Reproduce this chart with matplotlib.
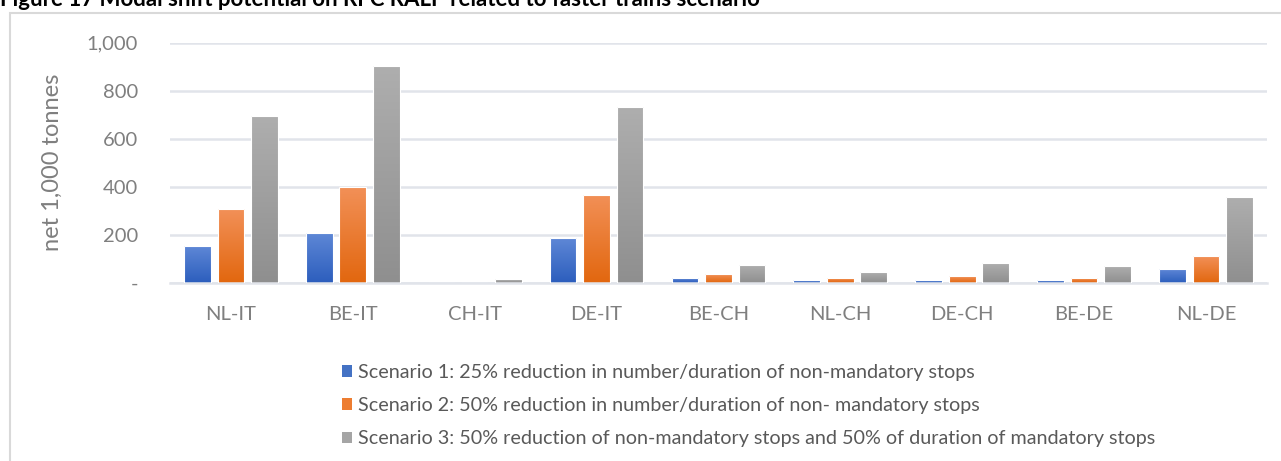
import matplotlib
matplotlib.use('Agg')
import matplotlib.pyplot as plt
from matplotlib.colors import LinearSegmentedColormap
from matplotlib.patches import Rectangle, Patch
from matplotlib.ticker import FuncFormatter
import numpy as np

# Data
corridors = ['NL-IT', 'BE-IT', 'CH-IT', 'DE-IT', 'BE-CH', 'NL-CH', 'DE-CH', 'BE-DE', 'NL-DE']
scenario1 = [153, 208, 0, 185, 21, 11, 11, 11, 58]
scenario2 = [308, 400, 0, 367, 37, 21, 27, 21, 111]
scenario3 = [695, 904, 15, 731, 74, 43, 81, 70, 356]
labels = [
    'Scenario 1: 25% reduction in number/duration of non-mandatory stops',
    'Scenario 2: 50% reduction in number/duration of non- mandatory stops',
    'Scenario 3: 50% reduction of non-mandatory stops and 50% of duration of mandatory stops',
]
y_ticks = [0, 200, 400, 600, 800, 1000]

# (top colour, bottom colour, legend colour)
colors = [
    ('#5E87D6', '#2C5EBD', '#4472C4'),
    ('#F29057', '#E2670F', '#ED7D31'),
    ('#AEAEAE', '#8F8F8F', '#A5A5A5'),
]

plt.rcParams['font.family'] = ['Lato', 'DejaVu Sans']
fig = plt.figure(figsize=(12.81, 4.61), dpi=100)
ax = fig.add_axes([0.1327, 0.3868, 0.8563, 0.5206])

# outer chart frame
fig.patches.append(Rectangle((10 / 1281, -0.2), 1.2, 1.2 - 13 / 461,
                             transform=fig.transFigure, fill=False,
                             edgecolor='#D9D9D9', linewidth=1.5, zorder=0))

# caption, cut off at the top as in the source document
fig.text(0.0, 0.986, 'Figure 17 Modal shift potential on RFC RALP related to faster trains scenario',
         fontsize=16, fontweight='bold', color='black', va='baseline', ha='left')

x = np.arange(len(corridors))
width = 0.22
step = 0.275
grad = np.linspace(1, 0, 100).reshape(-1, 1)

for i, vals in enumerate([scenario1, scenario2, scenario3]):
    top, bottom, _ = colors[i]
    cmap = LinearSegmentedColormap.from_list('g%d' % i, [bottom, top])
    bars = ax.bar(x + (i - 1) * step, vals, width, color='none',
                  edgecolor='#FFFFFF', linewidth=0.8, zorder=3)
    for b in bars:
        h = b.get_height()
        if h <= 0:
            continue
        x0 = b.get_x()
        img = ax.imshow(grad, extent=[x0, x0 + b.get_width(), 0, h], aspect='auto',
                        cmap=cmap, vmin=0, vmax=1, zorder=2, interpolation='bilinear')
        img.set_clip_path(b)

ax.set_xlim(-0.5, len(corridors) - 0.5)
ax.set_ylim(0, 1000)
ax.set_yticks(y_ticks)
ax.yaxis.set_major_formatter(FuncFormatter(lambda v, p: '-' if v == 0 else f'{int(v):,}'))
ax.set_xticks(x)
ax.set_xticklabels(corridors)
ax.tick_params(axis='both', length=0, labelsize=14.5, labelcolor='#7F7F7F')
ax.tick_params(axis='y', pad=23)
ax.tick_params(axis='x', pad=17)

ax.grid(axis='y', color='#E1E4EA', linewidth=1.8, zorder=0)
ax.set_axisbelow(True)
for s in ['top', 'right', 'left']:
    ax.spines[s].set_visible(False)
ax.spines['bottom'].set_color('#E1E4EA')
ax.spines['bottom'].set_linewidth(1.8)

ax.set_ylabel('net 1,000 tonnes', fontsize=17, color='#7F7F7F')
ax.yaxis.set_label_coords(-0.098, 0.5)

handles = [Patch(facecolor=c[2], edgecolor='none') for c in colors]
fig.legend(handles, labels, loc='upper left', bbox_to_anchor=(334 / 1281, 1 - 356 / 461),
           frameon=False, fontsize=14.2, labelcolor='#595959', handlelength=0.5,
           handleheight=0.5, handletextpad=0.3, labelspacing=0.82, borderaxespad=0)

plt.savefig('out.png', dpi=100)
